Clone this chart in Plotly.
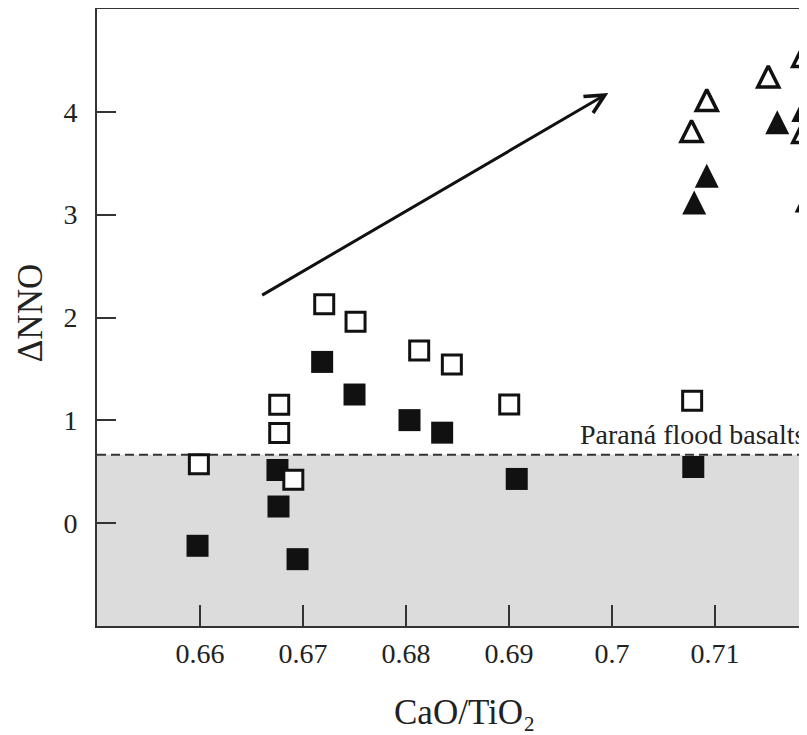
import plotly.graph_objects as go

# ---- data ----
x_tick_vals = [0.66, 0.67, 0.68, 0.69, 0.70, 0.71]
x_tick_text = ["0.66", "0.67", "0.68", "0.69", "0.7", "0.71"]
y_tick_vals = [0, 1, 2, 3, 4]

sq_open_x = [0.65989, 0.66769, 0.66769, 0.66906, 0.67206, 0.67510, 0.68128, 0.68445, 0.69002, 0.70778]
sq_open_y = [0.573, 1.152, 0.877, 0.422, 2.129, 1.959, 1.680, 1.544, 1.155, 1.191]

sq_fill_x = [0.65976, 0.66752, 0.66762, 0.66947, 0.67186, 0.67500, 0.68034, 0.68351, 0.69075, 0.70789]
sq_fill_y = [-0.220, 0.517, 0.162, -0.350, 1.568, 1.251, 1.002, 0.880, 0.430, 0.546]

tri_open_x = [0.70772, 0.70920, 0.71517, 0.71857, 0.71857]
tri_open_y = [3.78, 4.08, 4.31, 4.51, 3.77]

tri_fill_x = [0.70798, 0.70920, 0.71604, 0.71857, 0.71890]
tri_fill_y = [3.08, 3.34, 3.86, 3.98, 3.10]

parana_level = 0.665
parana_label = "Paraná flood basalts"
parana_label_x = 0.6967

arrow_tail = [0.66589, 2.209]
arrow_tip = [0.69964, 4.183]

x_range = [0.65, 0.71893]
y_range = [-1, 5]

FONT = "Liberation Serif, Times New Roman, serif"
INK = "#111111"
AX = "#333333"
TXT = "#222222"

fig = go.Figure()

TRI_FILL_SIZE = 24
TRI_OPEN_SIZE = 21

fig.add_trace(go.Scatter(
    x=sq_fill_x, y=sq_fill_y, mode="markers",
    marker=dict(symbol="square", size=22, color=INK, line=dict(width=0)),
    showlegend=False, hoverinfo="skip"))
fig.add_trace(go.Scatter(
    x=sq_open_x, y=sq_open_y, mode="markers",
    marker=dict(symbol="square", size=19, color="white", line=dict(width=3, color=INK)),
    showlegend=False, hoverinfo="skip"))
fig.add_trace(go.Scatter(
    x=tri_fill_x, y=tri_fill_y, mode="markers",
    marker=dict(symbol="arrow-down", angle=180, standoff=TRI_FILL_SIZE * 2 / 3,
                size=TRI_FILL_SIZE, color=INK, line=dict(width=0)),
    showlegend=False, hoverinfo="skip"))
fig.add_trace(go.Scatter(
    x=tri_open_x, y=tri_open_y, mode="markers",
    marker=dict(symbol="arrow-down", angle=180, standoff=TRI_OPEN_SIZE * 2 / 3,
                size=TRI_OPEN_SIZE, color="white", line=dict(width=3.5, color=INK)),
    showlegend=False, hoverinfo="skip"))

fig.add_shape(type="rect", xref="paper", yref="y", x0=0, x1=1, y0=y_range[0], y1=parana_level,
              fillcolor="#dcdcdc", line=dict(width=0), layer="below")
fig.add_shape(type="line", xref="paper", yref="y", x0=0, x1=1, y0=parana_level, y1=parana_level,
              line=dict(color=AX, width=2, dash="9px,5px"), layer="below")

fig.add_annotation(x=parana_label_x, y=parana_level, xref="x", yref="y",
                   text=parana_label, showarrow=False, xanchor="left", yanchor="bottom",
                   yshift=3, font=dict(family=FONT, size=28, color=TXT))

fig.add_annotation(x=arrow_tip[0], y=arrow_tip[1], ax=arrow_tail[0], ay=arrow_tail[1],
                   xref="x", yref="y", axref="x", ayref="y", text="",
                   showarrow=True, arrowhead=5, arrowsize=1.25, arrowwidth=3,
                   arrowcolor=INK, standoff=0, startstandoff=0)

fig.add_annotation(x=-0.0944, y=0.507, xref="paper", yref="paper", text="ΔNNO",
                   textangle=-90, showarrow=False, xanchor="center", yanchor="middle",
                   font=dict(family=FONT, size=35, color=TXT))
fig.add_annotation(x=0.518, y=-0.1394, xref="paper", yref="paper",
                   text="CaO/TiO₂",
                   showarrow=False, xanchor="center", yanchor="middle",
                   font=dict(family=FONT, size=35, color=TXT))

fig.update_xaxes(range=x_range, tickvals=x_tick_vals, ticktext=x_tick_text,
                 showline=True, linewidth=2, linecolor=AX, mirror=True,
                 ticks="inside", ticklen=21, tickwidth=2, tickcolor=AX,
                 showgrid=False, zeroline=False, ticklabelstandoff=1,
                 tickfont=dict(family=FONT, size=28, color=TXT))
fig.update_yaxes(range=y_range, tickvals=y_tick_vals,
                 showline=True, linewidth=2, linecolor=AX, mirror=False,
                 ticks="inside", ticklen=19, tickwidth=2, tickcolor=AX,
                 showgrid=False, zeroline=False, ticklabelstandoff=12,
                 tickfont=dict(family=FONT, size=28, color=TXT))

fig.update_layout(width=799, height=727, margin=dict(l=89, r=0, t=1, b=109),
                  plot_bgcolor="white", paper_bgcolor="white", showlegend=False)

fig.write_html("out.html")
